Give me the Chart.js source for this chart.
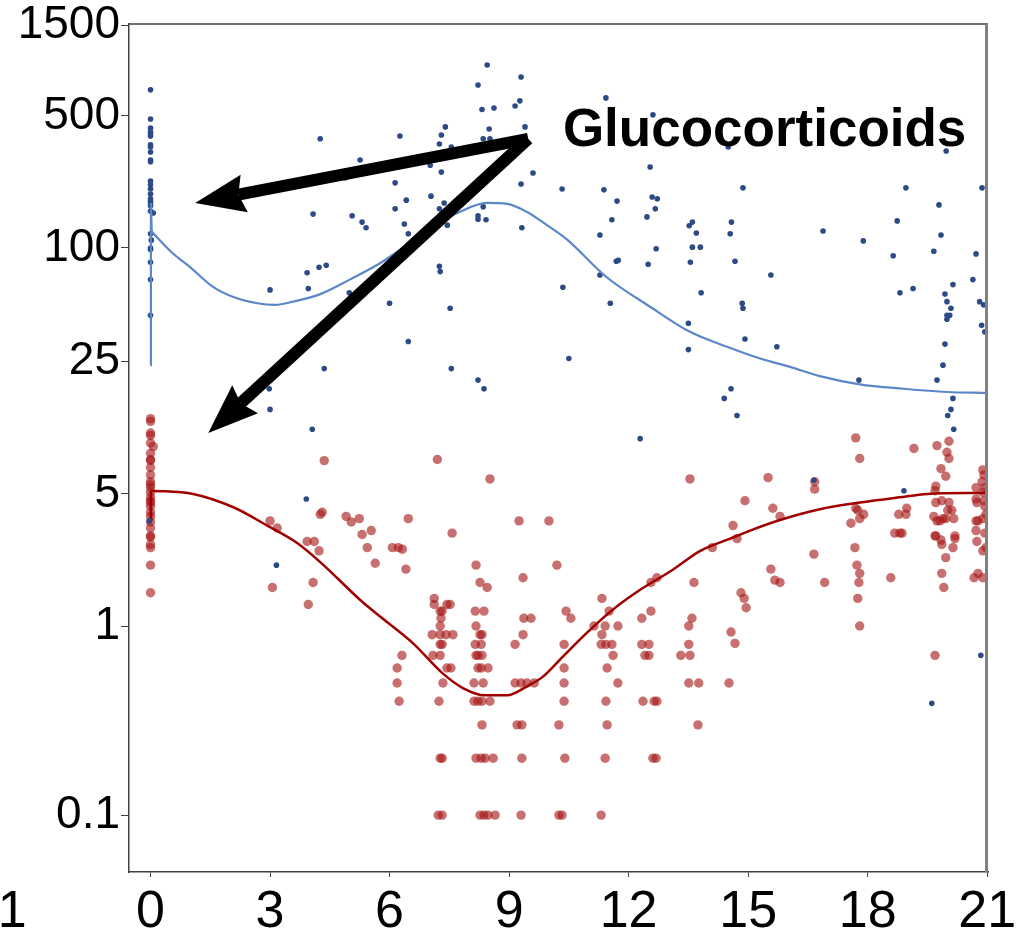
<!DOCTYPE html>
<html>
<head>
<meta charset="utf-8">
<script src="https://cdn.jsdelivr.net/npm/chart.js@4.4.1/dist/chart.umd.min.js"></script>
<style>
  body { margin: 0; background: #fff; }
  canvas { display: block; }
</style>
</head>
<body>
<canvas id="gcChart" width="1028" height="939"></canvas>
<script>
// Ejes
const xTicks = [0, 3, 6, 9, 12, 15, 18, 21];
const yTicks = [0.1, 1, 5, 25, 100, 500, 1500];

// Muestras individuales [día, valor]
const bluePoints = [
  [0, 686], [0, 481], [0, 431], [0, 411], [0, 401], [0, 391], [0, 351], [0, 342], [0, 322], [0, 292],
  [0, 286], [0, 226], [0, 216], [0, 205], [0, 193], [0, 182], [0, 177], [0, 173], [0, 167], [0, 157],
  [0.07, 153], [0, 119], [0.02, 110], [0, 100], [0, 98], [0, 84], [0, 68], [0, 44], [-0.03, 3.6],
  [3.0, 60], [3.93, 74], [3.96, 61], [4.23, 79], [4.41, 81], [4.08, 151], [4.26, 378], [4.99, 58],
  [6.0, 51], [6.47, 32], [4.36, 23], [2.98, 18], [3.0, 14], [4.06, 11], [3.91, 4.7], [3.16, 2.1],
  [7.25, 80], [7.27, 75], [7.52, 48], [7.55, 23], [8.45, 929], [8.22, 728], [9.3, 803], [8.32, 540],
  [8.62, 550], [9.15, 564], [9.27, 600], [7.4, 437], [7.3, 396], [6.26, 391], [7.25, 355], [8.5, 426],
  [8.35, 378], [8.52, 378], [9.4, 437], [7.55, 342], [7.3, 252], [6.14, 221], [9.6, 249], [9.3, 218],
  [7.04, 188], [6.42, 179], [7.37, 173], [6.14, 161], [7.25, 161], [8.35, 165], [10.33, 205],
  [8.22, 148], [8.22, 142], [8.42, 141], [6.37, 134], [7.45, 132], [6.47, 119], [9.32, 128],
  [4.89, 235], [5.26, 292], [5.06, 148], [5.31, 137], [5.41, 128], [7.02, 274], [8.22, 20], [8.37, 18],
  [11.43, 622], [12.61, 506], [14.5, 342], [19.97, 326], [12.54, 268], [11.38, 203], [11.71, 177],
  [12.59, 186], [12.72, 182], [12.67, 161], [14.87, 208], [11.58, 141], [12.46, 146], [11.28, 117],
  [13.52, 131], [13.6, 137], [13.7, 120], [14.58, 137], [14.55, 119], [12.69, 99], [13.6, 101],
  [13.8, 101], [11.69, 85], [11.74, 86], [12.49, 82], [13.55, 84], [14.67, 85], [11.28, 72],
  [10.35, 62], [15.57, 72], [11.54, 51], [13.82, 58], [14.85, 51], [14.87, 48], [13.5, 40],
  [14.92, 33], [15.72, 30], [13.5, 29], [10.5, 26], [14.57, 18], [14.4, 16], [14.72, 13], [12.29, 9.8],
  [18.96, 208], [20.87, 208], [19.79, 169], [18.74, 139], [16.88, 123], [17.89, 109], [19.84, 117],
  [18.64, 91], [19.66, 96], [20.72, 93], [20.64, 68], [19.14, 61], [18.81, 58], [20.14, 64],
  [19.94, 57], [19.99, 52], [20.81, 52], [20.91, 50], [20.09, 48], [19.99, 44], [20.06, 44],
  [19.99, 42], [20.86, 39], [20.94, 36], [19.94, 31], [19.89, 24], [17.78, 20], [19.74, 20],
  [20.14, 16], [20.09, 14], [20.01, 13], [20.16, 11], [16.65, 5.9], [18.91, 5.2], [20.84, 0.7],
  [19.61, 0.39]
];

const redPoints = [
  [0, 12.5], [0, 12.1], [0, 10.5], [0, 10.2], [0, 9.3], [0.07, 8.9], [0, 8.2], [0, 7.6], [0, 7.5],
  [0, 6.9], [0, 6.3], [0, 5.8], [0, 5.6], [0, 5.4], [0, 5.1], [0, 4.8], [0, 4.6], [0, 4.5], [0, 4.3],
  [0, 4.0], [0, 3.8], [0, 3.55], [0, 3.3], [0, 3.0], [0, 2.96], [0, 2.7], [0, 2.6], [0, 2.1], [0, 1.5],
  [3.0, 3.6], [3.18, 3.3], [3.06, 1.6], [3.93, 2.8], [4.11, 2.8], [4.23, 2.5], [4.08, 1.7], [3.96, 1.3],
  [4.26, 3.9], [4.36, 7.5], [4.31, 4.0], [4.91, 3.8], [5.04, 3.55], [5.24, 3.7], [5.31, 3.05],
  [5.54, 3.2], [5.44, 2.6], [5.64, 2.15], [6.07, 2.6], [6.22, 2.6], [6.32, 2.55], [6.47, 3.7],
  [8.17, 2.1], [10.2, 2.1], [6.41, 2.0], [9.35, 1.8], [8.27, 1.7], [8.45, 1.6], [12.71, 1.8],
  [12.56, 1.7], [13.64, 1.7], [7.12, 1.4], [7.12, 1.3], [7.44, 1.3], [7.52, 1.3], [11.33, 1.4],
  [7.27, 1.2], [7.32, 1.2], [8.15, 1.2], [8.37, 1.2], [10.43, 1.2], [11.51, 1.2], [12.56, 1.2],
  [9.37, 1.1], [9.55, 1.1], [10.55, 1.1], [12.33, 1.1], [13.59, 1.1], [7.29, 1.1],
  [7.27, 1.0], [8.17, 1.0], [11.13, 1.0], [11.41, 1.0], [11.73, 1.0], [13.51, 1.0],
  [7.07, 0.9], [7.27, 0.9], [7.42, 0.9], [7.59, 0.9], [8.27, 0.9], [8.32, 0.9], [9.35, 0.9], [11.33, 0.9],
  [7.27, 0.8], [7.32, 0.8], [8.15, 0.8], [8.3, 0.8], [9.15, 0.8], [10.38, 0.8], [11.31, 0.8], [11.43, 0.8],
  [11.58, 0.8], [12.33, 0.8], [12.51, 0.8], [13.51, 0.8],
  [7.09, 0.7], [7.27, 0.7], [6.31, 0.7], [8.17, 0.7], [8.22, 0.7], [8.32, 0.7], [11.61, 0.7], [12.41, 0.7],
  [12.51, 0.7], [13.31, 0.7], [13.54, 0.7],
  [6.19, 0.6], [7.44, 0.6], [7.54, 0.6], [8.22, 0.6], [8.3, 0.6], [8.47, 0.6], [10.38, 0.6], [11.46, 0.6],
  [6.19, 0.5], [7.34, 0.5], [8.12, 0.5], [8.35, 0.5], [9.15, 0.5], [9.3, 0.5], [9.45, 0.5], [9.63, 0.5],
  [10.38, 0.5], [11.73, 0.5], [13.51, 0.5], [13.76, 0.5],
  [6.24, 0.4], [7.24, 0.4], [8.12, 0.4], [8.22, 0.4], [8.32, 0.4], [8.52, 0.4], [10.38, 0.4], [11.43, 0.4],
  [12.36, 0.4], [12.64, 0.4], [12.71, 0.4],
  [8.32, 0.3], [9.2, 0.3], [9.32, 0.3], [10.25, 0.3], [11.46, 0.3], [13.74, 0.3],
  [7.27, 0.2], [7.32, 0.2], [8.17, 0.2], [8.3, 0.2], [8.4, 0.2], [8.6, 0.2], [9.32, 0.2], [10.4, 0.2],
  [11.41, 0.2], [12.61, 0.2], [12.69, 0.2],
  [7.22, 0.1], [7.32, 0.1], [8.27, 0.1], [8.37, 0.1], [8.47, 0.1], [8.65, 0.1], [9.3, 0.1], [10.25, 0.1],
  [10.33, 0.1], [11.31, 0.1],
  [7.2, 7.6], [7.57, 3.1], [8.52, 6.0], [9.25, 3.6], [10.0, 3.6], [13.54, 6.0],
  [14.92, 4.6], [15.5, 6.1], [14.62, 3.4], [14.72, 2.9], [14.82, 1.5], [14.9, 1.4], [14.95, 1.25],
  [14.57, 0.93], [14.67, 0.81], [15.57, 2.0], [15.67, 1.75], [15.62, 4.2], [14.1, 2.6], [14.52, 0.5],
  [17.7, 9.9], [17.8, 7.7], [19.16, 8.7], [19.74, 9.0], [20.04, 9.5], [19.99, 8.3], [20.04, 7.7],
  [19.84, 6.8], [19.96, 6.2], [16.67, 5.8], [16.67, 5.3], [19.71, 5.5], [19.69, 5.2], [20.72, 5.4],
  [20.89, 6.7], [20.92, 6.3], [20.87, 5.8], [20.94, 5.4], [20.89, 5.1], [20.72, 4.7], [20.74, 4.5],
  [20.92, 4.6], [20.94, 4.3], [20.97, 3.9], [20.89, 3.7], [20.72, 3.6], [20.77, 3.6], [20.72, 3.2],
  [20.94, 3.1], [20.74, 2.8], [20.97, 2.6], [20.89, 2.5], [20.77, 1.9], [20.67, 1.8], [20.89, 1.8],
  [19.71, 4.5], [19.86, 4.6], [20.04, 4.5], [20.01, 4.1], [20.11, 4.1], [19.66, 3.8], [19.74, 3.6],
  [19.81, 3.6], [19.89, 3.7], [19.96, 3.7], [20.16, 3.7], [19.69, 3.0], [19.71, 3.0], [20.19, 3.0],
  [20.19, 2.9], [19.84, 2.85], [19.86, 2.7], [20.14, 2.6], [19.96, 2.3], [19.86, 1.9], [19.91, 1.6],
  [19.69, 0.7], [17.7, 4.2], [17.75, 4.1], [17.9, 3.9], [17.8, 3.7], [17.58, 3.5], [18.78, 3.9],
  [18.96, 3.9], [18.98, 4.2], [18.68, 3.1], [18.81, 3.1], [18.86, 3.1], [17.68, 2.6], [16.65, 2.4],
  [17.73, 2.1], [17.8, 1.9], [17.78, 1.7], [16.92, 1.7], [15.8, 1.7], [18.58, 1.8], [17.75, 1.4],
  [17.8, 1.0], [15.8, 3.8]
];

// Curvas suavizadas; los primeros puntos forman el tramo vertical del día 0
const blueCurveX = [0, 0.01, 0.03, 0.55, 1.0, 1.58, 2.08, 2.68, 3.13, 3.58, 4.26, 5.0, 5.76, 6.27, 7.02,
  7.7, 8.45, 8.95, 9.45, 9.95, 10.45, 11.45, 12.53, 13.54, 14.47, 15.3, 16.05, 16.8, 17.8, 18.9, 20.0, 21.0];
const blueCurveY = [24, 173, 122, 94, 79, 62, 55, 51, 50, 52, 57, 68, 83, 98, 128,
  153, 173, 171, 155, 132, 111, 70, 49, 36, 30, 26, 23.5, 21, 19, 18, 17.3, 17.1];
const blueTail = 3;

const redCurveX = [0, 0.01, 1.07, 2.08, 2.93, 3.68, 4.26, 5.27, 5.77, 6.59, 7.34, 7.84, 8.4, 8.95, 9.45,
  9.85, 10.35, 10.95, 11.6, 12.28, 13.1, 13.8, 14.55, 15.05, 15.8, 16.8, 17.8, 18.8, 19.5, 20.5, 21.0];
const redCurveY = [3.6, 5.2, 5.0, 4.25, 3.4, 2.75, 2.18, 1.37, 1.12, 0.81, 0.56, 0.47, 0.43, 0.43, 0.48,
  0.54, 0.69, 0.92, 1.22, 1.55, 1.98, 2.5, 2.9, 3.2, 3.64, 4.15, 4.5, 4.8, 5.0, 5.05, 5.05];
const redTail = 2;

// Flechas de la anotación: origen común y dos puntas [día, valor]
const arrowTail = [9.48, 378];
const arrowHeads = [[1.12, 173], [1.45, 10.5]];
const noteText = "Glucocorticoids";
const notePos = [10.35, 347];

const FONT = "'Liberation Sans', Arial, sans-serif";

const toXY = (xs, ys) => xs.map((x, i) => ({ x: x, y: ys[i] }));
const pairs = (arr) => arr.map(([x, y]) => ({ x: x, y: y }));

function lineSet(points, color, width, order, smooth) {
  return {
    type: "line",
    data: points,
    borderColor: color,
    borderWidth: width,
    pointRadius: 0,
    fill: false,
    cubicInterpolationMode: smooth ? "monotone" : "default",
    tension: 0,
    order: order,
  };
}

function drawArrow(ctx, x0, y0, x1, y1) {
  const ang = Math.atan2(y1 - y0, x1 - x0);
  const c = Math.cos(ang), s = Math.sin(ang);
  const headLen = 50, headHalf = 19;
  const bx = x1 - headLen * c, by = y1 - headLen * s;
  ctx.lineWidth = 12;
  ctx.lineCap = "butt";
  ctx.beginPath();
  ctx.moveTo(x0, y0);
  ctx.lineTo(bx + 6 * c, by + 6 * s);
  ctx.stroke();
  ctx.beginPath();
  ctx.moveTo(x1, y1);
  ctx.lineTo(bx - headHalf * s, by + headHalf * c);
  ctx.lineTo(bx + 6 * c, by + 6 * s);
  ctx.lineTo(bx + headHalf * s, by - headHalf * c);
  ctx.closePath();
  ctx.fill();
}

const annotations = {
  id: "annotations",
  afterDatasetsDraw(chart) {
    const { ctx, chartArea: a, scales } = chart;
    const px = (v) => scales.x.getPixelForValue(v);
    const py = (v) => scales.y.getPixelForValue(v);
    ctx.save();

    // marco superior y derecho
    ctx.strokeStyle = "#404040";
    ctx.lineWidth = 1.5;
    ctx.beginPath();
    ctx.moveTo(a.left, a.top);
    ctx.lineTo(a.right, a.top);
    ctx.stroke();
    ctx.strokeStyle = "#808080";
    ctx.lineWidth = 3;
    ctx.beginPath();
    ctx.moveTo(a.right - 1.5, a.top);
    ctx.lineTo(a.right - 1.5, a.bottom);
    ctx.stroke();

    // flechas
    ctx.strokeStyle = "#000";
    ctx.fillStyle = "#000";
    const tx = px(arrowTail[0]), ty = py(arrowTail[1]);
    for (const [hx, hy] of arrowHeads) {
      drawArrow(ctx, tx, ty, px(hx), py(hy));
    }

    // texto
    ctx.font = "bold 53px " + FONT;
    ctx.textAlign = "left";
    ctx.textBaseline = "alphabetic";
    ctx.fillText(noteText, px(notePos[0]), py(notePos[1]));

    // etiqueta recortada a la izquierda del eje x
    ctx.font = "52px " + FONT;
    ctx.textAlign = "center";
    ctx.textBaseline = "middle";
    ctx.fillText("1", px(-3.47), a.bottom + 5 + 10 + 26);
    ctx.restore();
  }
};

document.addEventListener("DOMContentLoaded", () => {
  const ctx = document.getElementById("gcChart").getContext("2d");

  const blueLine = toXY(blueCurveX, blueCurveY);
  const redLine = toXY(redCurveX, redCurveY);

  new Chart(ctx, {
    type: "scatter",
    data: {
      datasets: [
        lineSet(blueLine.slice(0, blueTail), "#5b87c9", 2.2, 0, false),
        lineSet(blueLine.slice(blueTail - 1), "#5b87c9", 2.2, 0, true),
        {
          data: pairs(bluePoints),
          backgroundColor: "#2c4a85",
          borderWidth: 0,
          pointRadius: 2.8,
          order: 1,
        },
        lineSet(redLine.slice(0, redTail), "#a00000", 2.5, 2, false),
        lineSet(redLine.slice(redTail - 1), "#a00000", 2.5, 2, true),
        {
          data: pairs(redPoints),
          backgroundColor: "rgba(166, 22, 22, 0.62)",
          borderWidth: 0,
          pointRadius: 4.7,
          order: 3,
        },
      ],
    },
    options: {
      responsive: false,
      animation: false,
      layout: { padding: { top: 24, right: 40, left: 0, bottom: 0 } },
      plugins: { legend: { display: false }, tooltip: { enabled: false } },
      scales: {
        x: {
          type: "linear",
          min: -0.54,
          max: 21.02,
          afterBuildTicks: (scale) => { scale.ticks = xTicks.map((v) => ({ value: v })); },
          afterFit: (scale) => { scale.height = 67; },
          grid: { drawOnChartArea: false, drawTicks: true, tickLength: 5, color: "#404040" },
          border: { display: true, color: "#404040", width: 1.5 },
          ticks: {
            autoSkip: false,
            maxRotation: 0,
            padding: 10,
            color: "#000",
            font: { family: FONT, size: 52, lineHeight: 1 },
            callback: (v) => String(v),
          },
        },
        y: {
          type: "logarithmic",
          min: 0.05,
          max: 1530,
          afterBuildTicks: (scale) => { scale.ticks = yTicks.map((v) => ({ value: v })); },
          afterFit: (scale) => { scale.width = 129; scale.paddingTop = 0; scale.paddingBottom = 0; },
          grid: { drawOnChartArea: false, drawTicks: true, tickLength: 8, color: "#404040" },
          border: { display: true, color: "#404040", width: 1.5 },
          ticks: {
            autoSkip: false,
            padding: 1,
            color: "#000",
            font: { family: FONT, size: 46, lineHeight: 1 },
            callback: (v) => String(v),
          },
        },
      },
    },
    plugins: [annotations],
  });
});
</script>
</body>
</html>
